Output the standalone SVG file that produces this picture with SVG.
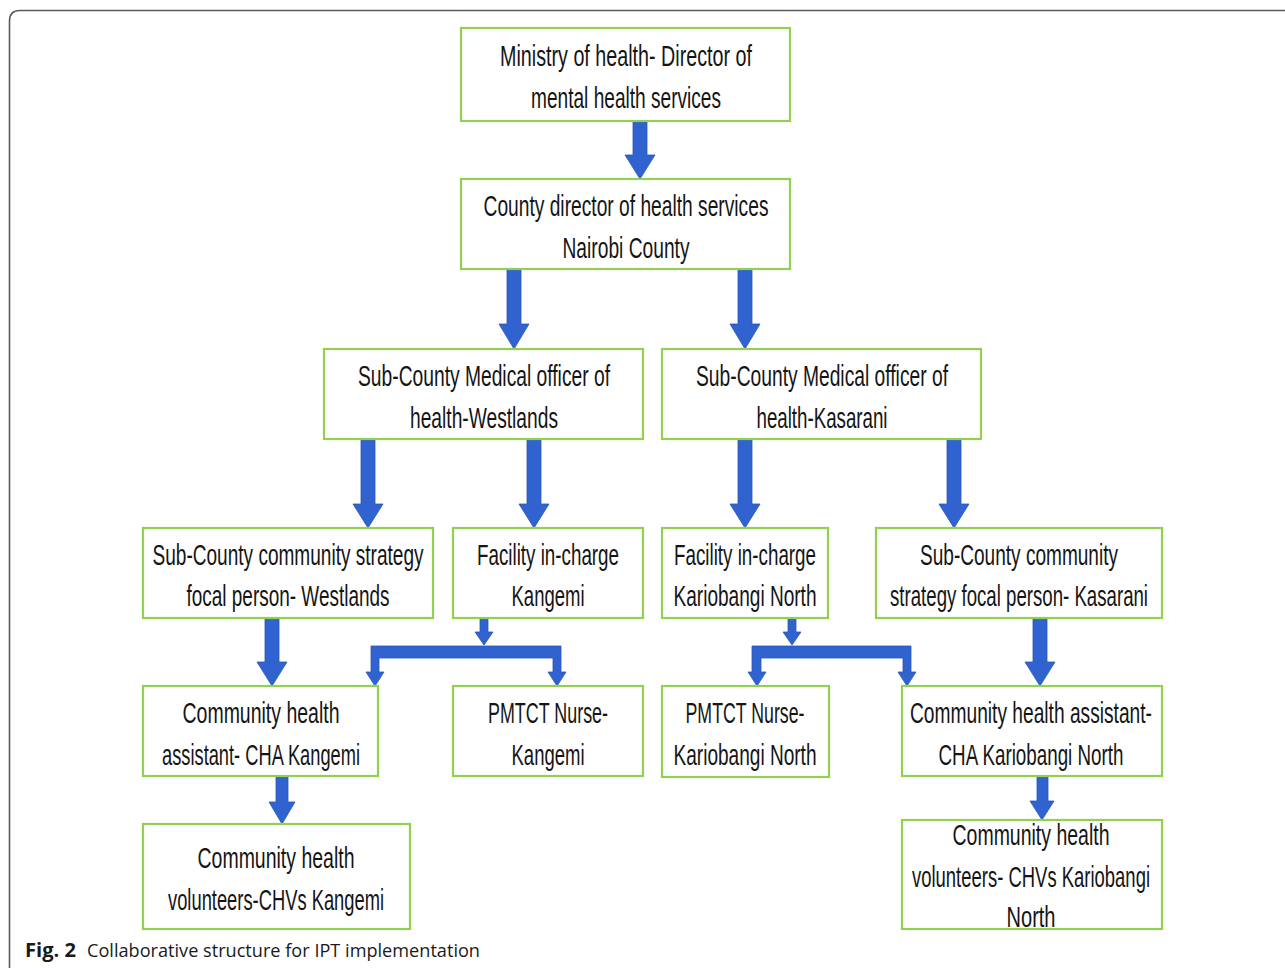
<svg xmlns="http://www.w3.org/2000/svg" width="1285" height="968" viewBox="0 0 1285 968">
<style>
.box{fill:#ffffff;stroke:#92d050;stroke-width:2.2}
.t{font-family:"Liberation Sans",Arial,sans-serif;font-size:18px;fill:#151515;text-anchor:middle}
.arr{fill:#3063cf;stroke:#2a56b8;stroke-width:0.8}
.cap{font-family:"Open Sans","Liberation Sans",sans-serif;font-size:19px;fill:#1a1a1a}
</style>
<rect width="1285" height="968" fill="#ffffff"/>
<path d="M9.5,968 L9.5,21 Q9.5,10.5 20,10.5 L1285,10.5" fill="none" stroke="#5a5a5a" stroke-width="1.6"/>
<g id="connectors">
<path class="arr" d="M633,121 L647,121 L647,155 L655,155 L640,179 L625,155 L633,155 Z"/>
<path class="arr" d="M507,269 L521,269 L521,324 L529,324 L514,349 L499,324 L507,324 Z"/>
<path class="arr" d="M738,269 L752,269 L752,324 L760,324 L745,349 L730,324 L738,324 Z"/>
<path class="arr" d="M361,439 L375,439 L375,504 L383,504 L368,528 L353,504 L361,504 Z"/>
<path class="arr" d="M527,439 L541,439 L541,504 L549,504 L534,528 L519,504 L527,504 Z"/>
<path class="arr" d="M738,439 L752,439 L752,504 L760,504 L745,528 L730,504 L738,504 Z"/>
<path class="arr" d="M947,439 L961,439 L961,504 L969,504 L954,528 L939,504 L947,504 Z"/>
<path class="arr" d="M265,618 L279,618 L279,662 L287,662 L272,686 L257,662 L265,662 Z"/>
<path class="arr" d="M1033,618 L1047,618 L1047,662 L1055,662 L1040,686 L1025,662 L1033,662 Z"/>
<path class="arr" d="M276,776 L288,776 L288,802 L295,802 L282,824 L269,802 L276,802 Z"/>
<path class="arr" d="M1037,776 L1048,776 L1048,801 L1054,801 L1042,820 L1030,801 L1037,801 Z"/>
<path class="arr" d="M480,618 L488,618 L488,632 L493,632 L484,645 L475,632 L480,632 Z"/>
<path class="arr" d="M371,646 L561,646 L561,672 L566,672 L557,686 L548,672 L553,672 L553,658 L379,658 L379,672 L384,672 L375,686 L366,672 L371,672 Z"/>
<path class="arr" d="M788,618 L796,618 L796,632 L801,632 L792,645 L783,632 L788,632 Z"/>
<path class="arr" d="M752,646 L911,646 L911,672 L916,672 L907,686 L898,672 L903,672 L903,658 L761,658 L761,672 L766,672 L757,686 L748,672 L752,672 Z"/>
</g>
<g id="n1"><rect class="box" x="461" y="28" width="329" height="93"/>
<text class="t" transform="translate(626,66) scale(1,1.6)" textLength="252" lengthAdjust="spacingAndGlyphs">Ministry of health- Director of</text>
<text class="t" transform="translate(626,108) scale(1,1.6)" textLength="190" lengthAdjust="spacingAndGlyphs">mental health services</text></g>
<g id="n2"><rect class="box" x="461" y="179" width="329" height="90"/>
<text class="t" transform="translate(626,216) scale(1,1.6)" textLength="285" lengthAdjust="spacingAndGlyphs">County director of health services</text>
<text class="t" transform="translate(626,258) scale(1,1.6)" textLength="127" lengthAdjust="spacingAndGlyphs">Nairobi County</text></g>
<g id="n3"><rect class="box" x="324" y="349" width="319" height="90"/>
<text class="t" transform="translate(484,386) scale(1,1.6)" textLength="252" lengthAdjust="spacingAndGlyphs">Sub-County Medical officer of</text>
<text class="t" transform="translate(484,428) scale(1,1.6)" textLength="148" lengthAdjust="spacingAndGlyphs">health-Westlands</text></g>
<g id="n4"><rect class="box" x="662" y="349" width="319" height="90"/>
<text class="t" transform="translate(822,386) scale(1,1.6)" textLength="252" lengthAdjust="spacingAndGlyphs">Sub-County Medical officer of</text>
<text class="t" transform="translate(822,428) scale(1,1.6)" textLength="131" lengthAdjust="spacingAndGlyphs">health-Kasarani</text></g>
<g id="n5"><rect class="box" x="143" y="528" width="290" height="90"/>
<text class="t" transform="translate(288,565) scale(1,1.6)" textLength="271" lengthAdjust="spacingAndGlyphs">Sub-County community strategy</text>
<text class="t" transform="translate(288,606) scale(1,1.6)" textLength="203" lengthAdjust="spacingAndGlyphs">focal person- Westlands</text></g>
<g id="n6"><rect class="box" x="453" y="528" width="190" height="90"/>
<text class="t" transform="translate(548,565) scale(1,1.6)" textLength="142" lengthAdjust="spacingAndGlyphs">Facility in-charge</text>
<text class="t" transform="translate(548,606) scale(1,1.6)" textLength="73" lengthAdjust="spacingAndGlyphs">Kangemi</text></g>
<g id="n7"><rect class="box" x="662" y="528" width="166" height="90"/>
<text class="t" transform="translate(745,565) scale(1,1.6)" textLength="142" lengthAdjust="spacingAndGlyphs">Facility in-charge</text>
<text class="t" transform="translate(745,606) scale(1,1.6)" textLength="143" lengthAdjust="spacingAndGlyphs">Kariobangi North</text></g>
<g id="n8"><rect class="box" x="876" y="528" width="286" height="90"/>
<text class="t" transform="translate(1019,565) scale(1,1.6)" textLength="198" lengthAdjust="spacingAndGlyphs">Sub-County community</text>
<text class="t" transform="translate(1019,606) scale(1,1.6)" textLength="258" lengthAdjust="spacingAndGlyphs">strategy focal person- Kasarani</text></g>
<g id="n9"><rect class="box" x="143" y="686" width="235" height="90"/>
<text class="t" transform="translate(261,723) scale(1,1.6)" textLength="157" lengthAdjust="spacingAndGlyphs">Community health</text>
<text class="t" transform="translate(261,765) scale(1,1.6)" textLength="198" lengthAdjust="spacingAndGlyphs">assistant- CHA Kangemi</text></g>
<g id="n10"><rect class="box" x="453" y="686" width="190" height="90"/>
<text class="t" transform="translate(548,723) scale(1,1.6)" textLength="120" lengthAdjust="spacingAndGlyphs">PMTCT Nurse-</text>
<text class="t" transform="translate(548,765) scale(1,1.6)" textLength="73" lengthAdjust="spacingAndGlyphs">Kangemi</text></g>
<g id="n11"><rect class="box" x="662" y="686" width="167" height="91"/>
<text class="t" transform="translate(745,723) scale(1,1.6)" textLength="119" lengthAdjust="spacingAndGlyphs">PMTCT Nurse-</text>
<text class="t" transform="translate(745,765) scale(1,1.6)" textLength="143" lengthAdjust="spacingAndGlyphs">Kariobangi North</text></g>
<g id="n12"><rect class="box" x="902" y="686" width="260" height="90"/>
<text class="t" transform="translate(1031,723) scale(1,1.6)" textLength="242" lengthAdjust="spacingAndGlyphs">Community health assistant-</text>
<text class="t" transform="translate(1031,765) scale(1,1.6)" textLength="185" lengthAdjust="spacingAndGlyphs">CHA Kariobangi North</text></g>
<g id="n13"><rect class="box" x="143" y="824" width="267" height="105"/>
<text class="t" transform="translate(276,868) scale(1,1.6)" textLength="157" lengthAdjust="spacingAndGlyphs">Community health</text>
<text class="t" transform="translate(276,910) scale(1,1.6)" textLength="216" lengthAdjust="spacingAndGlyphs">volunteers-CHVs Kangemi</text></g>
<g id="n14"><rect class="box" x="902" y="820" width="260" height="109"/>
<text class="t" transform="translate(1031,845) scale(1,1.6)" textLength="157" lengthAdjust="spacingAndGlyphs">Community health</text>
<text class="t" transform="translate(1031,887) scale(1,1.6)" textLength="238" lengthAdjust="spacingAndGlyphs">volunteers- CHVs Kariobangi</text>
<text class="t" transform="translate(1031,927) scale(1,1.6)" textLength="49" lengthAdjust="spacingAndGlyphs">North</text></g>
<g id="caption">
<text class="cap" x="25" y="957" font-weight="bold" textLength="51" lengthAdjust="spacingAndGlyphs">Fig. 2</text>
<text class="cap" x="87" y="957" textLength="393" lengthAdjust="spacingAndGlyphs">Collaborative structure for IPT implementation</text>
</g>
</svg>
